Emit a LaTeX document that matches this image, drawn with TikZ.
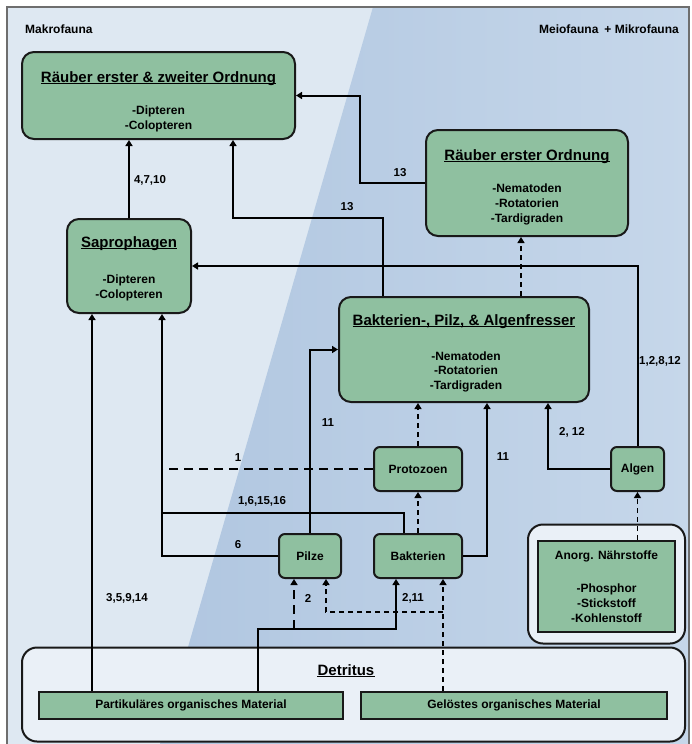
\documentclass[tikz,border=0pt]{standalone}
\usepackage{fontspec}
\setmainfont{Liberation Sans}
\usetikzlibrary{arrows.meta,calc}
\definecolor{boxgreen}{RGB}{143,192,160}
\definecolor{bgleft}{RGB}{222,232,242}
\definecolor{bgdark}{RGB}{176,198,224}
\definecolor{bglight}{RGB}{198,215,234}
\definecolor{paleface}{RGB}{234,240,247}
\definecolor{framegray}{RGB}{110,110,110}
\begin{document}
\begin{tikzpicture}[x=1pt,y=-1pt,
  box/.style={draw=black!90, line width=2pt, fill=boxgreen, rounded corners=12pt, inner sep=0pt},
  sbox/.style={box, rounded corners=6pt, font=\fontsize{12}{14}\selectfont\bfseries},
  rbox/.style={draw=black!90, line width=2pt, fill=boxgreen, inner sep=0pt, font=\fontsize{12}{14}\selectfont\bfseries},
  ttl/.style={font=\fontsize{15}{18}\selectfont\bfseries, inner sep=0pt, anchor=base},
  itm/.style={font=\fontsize{12}{14}\selectfont\bfseries, inner sep=0pt, anchor=base},
  lbl/.style={font=\fontsize{11.5}{13}\selectfont\bfseries, inner sep=0pt},
  ul/.style={line width=1.1pt},
  con/.style={line width=2pt, -{Triangle[width=7pt,length=6pt]}},
  ln/.style={line width=2pt},
  dthin/.style={line width=1.4pt, dash pattern=on 5pt off 4pt},
  dthick/.style={line width=2.6pt, dash pattern=on 9pt off 6pt},
]
\useasboundingbox (0,0) rectangle (692,744);
% background
\fill[white] (0,0) rectangle (692,744);
\fill[bgleft] (7,7) rectangle (689,744);
\shade[left color=bgdark, right color=bglight] (373,7) -- (689,7) -- (689,744) -- (160,744) -- cycle;
\draw[framegray, line width=1.2pt] (7,744) -- (7,7) -- (689,7) -- (689,744);

% corner labels
\node[font=\fontsize{12}{14}\selectfont\bfseries, anchor=west, inner sep=0pt] (makro) at (25,29) {Makrofauna};
\node[font=\fontsize{12}{14}\selectfont\bfseries, anchor=east, inner sep=0pt] (meio) at (679,29) {Meiofauna\enspace+ Mikrofauna};

% big boxes
\node[box, minimum width=273pt, minimum height=87pt] (A) at (158.5,95.5) {};
\node[ttl] (tA) at (158.5,82) {Räuber erster \& zweiter Ordnung};
\draw[ul] ([yshift=-1.6pt]tA.base west) -- ([yshift=-1.6pt]tA.base east);
\node[itm] (A1) at (158.5,114) {-Dipteren};
\node[itm] (A2) at (158.5,129) {-Colopteren};

\node[box, minimum width=202pt, minimum height=106pt] (B) at (527,183) {};
\node[ttl] (tB) at (527,160) {Räuber erster Ordnung};
\draw[ul] ([yshift=-1.6pt]tB.base west) -- ([yshift=-1.6pt]tB.base east);
\node[itm] (B1) at (527,192) {-Nematoden};
\node[itm] (B2) at (527,207) {-Rotatorien};
\node[itm] (B3) at (527,222) {-Tardigraden};

\node[box, minimum width=124pt, minimum height=94pt] (Sap) at (129,266) {};
\node[ttl] (tS) at (129,247) {Saprophagen};
\draw[ul] ([yshift=-1.6pt]tS.base west) -- ([yshift=-1.6pt]tS.base east);
\node[itm] (S1) at (129,283) {-Dipteren};
\node[itm] (S2) at (129,298) {-Colopteren};

\node[box, minimum width=250pt, minimum height=105pt] (C) at (464,349.5) {};
\node[ttl] (tC) at (464,325) {Bakterien-, Pilz, \& Algenfresser};
\draw[ul] ([yshift=-1.6pt]tC.base west) -- ([yshift=-1.6pt]tC.base east);
\node[itm] (C1) at (466,360) {-Nematoden};
\node[itm] (C2) at (466,374) {-Rotatorien};
\node[itm] (C3) at (466,389) {-Tardigraden};

% small boxes
\node[sbox, minimum width=88pt, minimum height=44pt] (Proto) at (418,469) {Protozoen};
\node[sbox, minimum width=62pt, minimum height=44pt] (Pilze) at (310,556) {Pilze};
\node[sbox, minimum width=88pt, minimum height=44pt] (Bak) at (418,556) {Bakterien};
\node[sbox, minimum width=53pt, minimum height=44pt] (Algen) at (637.5,469) {Algen};

% anorganic nutrients
\node[draw=black!90, line width=2pt, fill=paleface, rounded corners=15pt, minimum width=157pt, minimum height=119pt, inner sep=0pt] (AnOut) at (606.5,584) {};
\node[rbox, minimum width=137pt, minimum height=91pt] (AnIn) at (606.5,586.5) {};
\node[itm] (An0) at (606.5,559) {Anorg. Nährstoffe};
\node[itm] (An1) at (606.5,592) {-Phosphor};
\node[itm] (An2) at (606.5,607) {-Stickstoff};
\node[itm] (An3) at (606.5,622) {-Kohlenstoff};

% detritus
\node[draw=black!90, line width=2pt, fill=paleface, rounded corners=15pt, minimum width=663pt, minimum height=94pt, inner sep=0pt] (Det) at (353.5,694.5) {};
\node[ttl] (tD) at (346,675) {Detritus};
\draw[ul] ([yshift=-1.6pt]tD.base west) -- ([yshift=-1.6pt]tD.base east);
\node[rbox, minimum width=304pt, minimum height=27pt] (Part) at (191,705.5) {Partikuläres organisches Material};
\node[rbox, minimum width=306pt, minimum height=27pt] (Gel) at (514,705.5) {Gelöstes organisches Material};

% helper coordinates
\coordinate (X92) at (92,0);
\coordinate (X162) at (162,0);
\coordinate (X258) at (258,0);
\coordinate (X326) at (326,0);
\coordinate (X383) at (383,0);
\coordinate (X404) at (404,0);
\coordinate (X443) at (443,0);
\coordinate (X487) at (487,0);
\coordinate (X521) at (521,0);
\coordinate (X548) at (548,0);
\coordinate (k13) at (233,218);
\coordinate (k13b) at (360,183);
\coordinate (j1) at (162,513);
\coordinate (j2) at (396,629);
\coordinate (j3) at (294,629);
\coordinate (j4) at (443,612);

% connectors
\draw[con] (Sap.north) -- (Sap.north |- A.south);
\draw[con] (C.north -| X383) |- (k13) -- (A.south -| k13);
\draw[con] (B.west) -- (B.west -| k13b) |- (A.east);
\draw[con] (Algen.north) |- (Sap.east);
\draw[con, dthin] (C.north -| X521) -- (B.south -| X521);
\draw[con, dthin] (Proto.north) -- (Proto.north |- C.south);
\draw[con] (Bak.east) -| (X487 |- C.south);
\draw[con] (Algen.west) -| (X548 |- C.south);
\draw[con] (Pilze.north) |- (C.west);
\draw[dthick] (Proto.west) -- (Proto.west -| X162);
\draw[con] (Pilze.west) -| (X162 |- Sap.south);
\draw[ln] (Bak.north -| X404) |- (j1);
\draw[con] (Part.north -| X92) -- (X92 |- Sap.south);
\draw[con] (Part.north -| X258) |- (j2) -- (Bak.south -| j2);
\draw[con, dthick] (j3) -- (Pilze.south -| j3);
\draw[con, dthin] (Gel.north -| X443) -- (Bak.south -| X443);
\draw[con, dthin] (j4) -| (Pilze.south -| X326);
\draw[con, dthin] (Bak.north) -- (Proto.south);
\draw[con, dthin] (Algen.south |- AnIn.north) -- (Algen.south);

% labels
\node[lbl] (l1) at (150,180) {4,7,10};
\node[lbl] (l2) at (400,173) {13};
\node[lbl] (l3) at (347,207) {13};
\node[lbl] (l4) at (660,361) {1,2,8,12};
\node[lbl] (l5) at (328,423) {11};
\node[lbl] (l6) at (572,432) {2, 12};
\node[lbl] (l7) at (503,457) {11};
\node[lbl] (l8) at (238,458) {1};
\node[lbl] (l9) at (262,501) {1,6,15,16};
\node[lbl] (l10) at (238,545) {6};
\node[lbl] (l11) at (127,598) {3,5,9,14};
\node[lbl] (l12) at (308,598) {2};
\node[lbl] (l13) at (413,598) {2,11};
\end{tikzpicture}
\end{document}
